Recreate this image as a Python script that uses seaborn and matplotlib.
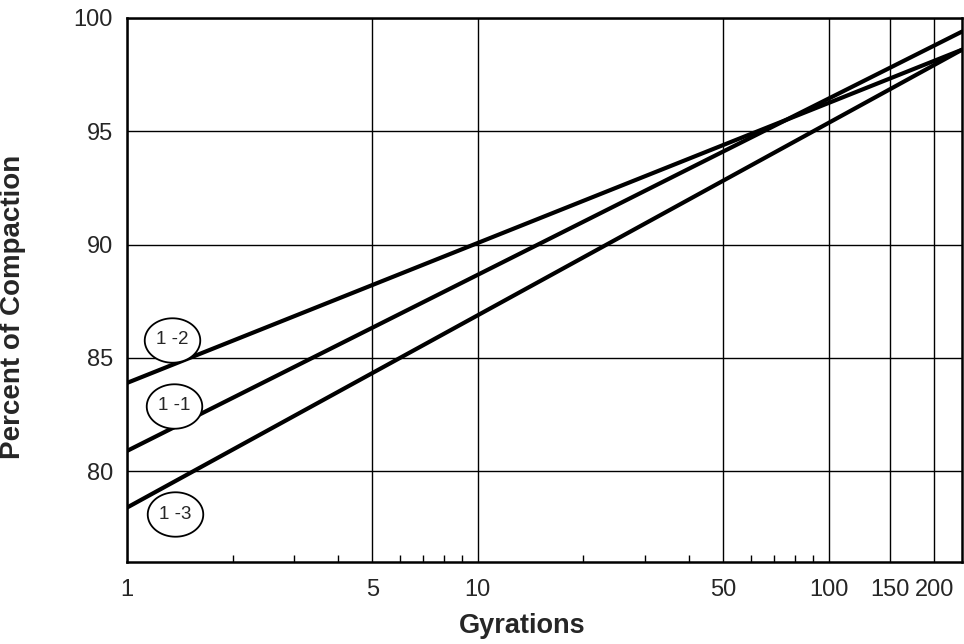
import numpy as np
import pandas as pd
import matplotlib
matplotlib.use("Agg")
import matplotlib.pyplot as plt
import seaborn as sns
from matplotlib.path import Path
from matplotlib.ticker import FixedLocator, NullFormatter, FixedFormatter

# ---- data ----
series = ["1-1", "1-2", "1-3"]
gyrations = [1, 240]
compaction_1_1 = [80.9, 99.4]
compaction_1_2 = [83.9, 98.6]
compaction_1_3 = [78.4, 98.6]
label_texts = ["1 -2", "1 -1", "1 -3"]
label_x = [1.345, 1.36, 1.37]
label_y = [85.8, 82.9, 78.1]
x_major = [1, 5, 10, 50, 100, 150, 200]
x_minor = [2, 3, 4, 6, 7, 8, 9, 20, 30, 40, 60, 70, 80, 90]
y_ticks = [80, 85, 90, 95, 100]

df = pd.DataFrame({
    "Gyrations": gyrations * 3,
    "Percent": compaction_1_1 + compaction_1_2 + compaction_1_3,
    "Series": [s for s in series for _ in gyrations],
})

sns.set_style("white")
plt.rcParams["font.family"] = ["Liberation Sans", "DejaVu Sans"]

fig = plt.figure(figsize=(9.64, 6.44), dpi=100)
ax = fig.add_axes([127/964, 1 - 562/644, (962-127)/964, (562-18)/644])

ax.set_xscale("log")
sns.lineplot(data=df, x="Gyrations", y="Percent", hue="Series",
             palette=["black"] * 3, linewidth=3.0, legend=False, ax=ax, zorder=3)

ax.set_xlim(1, 240)
ax.set_ylim(76, 100)

# grid
ax.xaxis.set_major_locator(FixedLocator(x_major))
ax.xaxis.set_major_formatter(FixedFormatter([str(v) for v in x_major]))
ax.xaxis.set_minor_locator(FixedLocator(x_minor))
ax.xaxis.set_minor_formatter(NullFormatter())
ax.yaxis.set_major_locator(FixedLocator(y_ticks))
ax.grid(True, which="major", axis="both", color="black", linewidth=1.0)
ax.set_axisbelow(True)

ax.tick_params(axis="x", which="major", length=0, pad=12, labelsize=17)
ax.tick_params(axis="x", which="minor", direction="in", length=5, width=1.0,
               bottom=True, color="black")
ax.tick_params(axis="y", which="major", length=0, pad=10, labelsize=17)

for sp in ax.spines.values():
    sp.set_visible(True)
    sp.set_color("black")
    sp.set_linewidth(1.8)

ax.set_xlabel("Gyrations", fontsize=19.5, fontweight="bold")
ax.xaxis.set_label_coords((522-127)/835, -(626-562)/544)
ax.xaxis.label.set_va("center")
ax.set_ylabel("Percent of Compaction", fontsize=20, fontweight="bold")
ax.yaxis.set_label_coords(-101/835, 1 - (307-18)/544)

# ellipse labels
theta = np.linspace(0, 2*np.pi, 80)
ell = Path(np.column_stack([np.cos(theta), 0.8*np.sin(theta)]), closed=True)
ax.scatter(label_x, label_y, marker=ell, s=40**2, facecolor="white",
           edgecolor="black", linewidth=1.3, zorder=5)
for t, x, y in zip(label_texts, label_x, label_y):
    ax.text(x, y, t, ha="center", va="center", fontsize=13.5, zorder=6)

fig.savefig("out.png", dpi=100)
